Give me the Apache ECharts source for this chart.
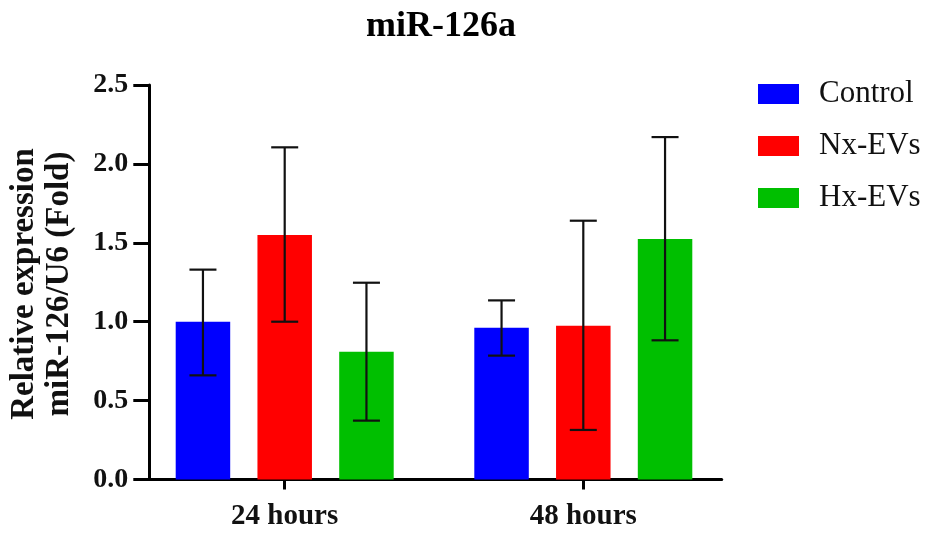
<!DOCTYPE html>
<html>
<head>
<meta charset="utf-8">
<script src="https://cdn.jsdelivr.net/npm/echarts@6/dist/echarts.min.js"></script>
<style>html,body{margin:0;padding:0;background:#fff}#c{width:925px;height:535px}</style>
</head>
<body>
<div id="c"></div>
<script>
const categories = ['24 hours', '48 hours'];
const seriesNames = ['Control', 'Nx-EVs', 'Hx-EVs'];
const controlMean = [1.0, 0.962];
const nxMean = [1.55, 0.975];
const hxMean = [0.81, 1.524];
const controlLow = [0.66, 0.785];
const controlHigh = [1.33, 1.135];
const nxLow = [1.0, 0.314];
const nxHigh = [2.105, 1.64];
const hxLow = [0.373, 0.882];
const hxHigh = [1.247, 2.17];
const yTicks = [0, 0.5, 1.0, 1.5, 2.0, 2.5];

const colors = ['#0000FF', '#FF0000', '#00BF00'];
const means = [controlMean, nxMean, hxMean];
const lows = [controlLow, nxLow, hxLow];
const highs = [controlHigh, nxHigh, hxHigh];
const FONT = '"Liberation Serif", "Times New Roman", serif';
const BAR_W = 54.5, BAR_GAP = 0.5;

const chart = echarts.init(document.getElementById('c'), null, {renderer: 'canvas'});

const barSeries = seriesNames.map((n, i) => ({
  name: n, type: 'bar', xAxisIndex: 0, yAxisIndex: 0,
  data: means[i], barWidth: BAR_W, barGap: (BAR_GAP * 100) + '%',
  itemStyle: {color: colors[i]}, z: 2
}));

const errSeries = seriesNames.map((n, i) => ({
  type: 'custom', xAxisIndex: 0, yAxisIndex: 0, z: 5, silent: true,
  data: categories.map((c, k) => [k, lows[i][k], highs[i][k]]),
  renderItem: function (params, api) {
    const k = api.value(0);
    const lo = api.coord([k, api.value(1)]);
    const hi = api.coord([k, api.value(2)]);
    const off = (i - 1) * BAR_W * (1 + BAR_GAP);
    const x = lo[0] + off;
    const cap = 13.5;
    const st = {stroke: '#111', lineWidth: 2.2};
    return {type: 'group', children: [
      {type: 'line', shape: {x1: x, y1: lo[1], x2: x, y2: hi[1]}, style: st},
      {type: 'line', shape: {x1: x - cap, y1: lo[1], x2: x + cap, y2: lo[1]}, style: st},
      {type: 'line', shape: {x1: x - cap, y1: hi[1], x2: x + cap, y2: hi[1]}, style: st}
    ]};
  }
}));

const option = {
  animation: false,
  backgroundColor: '#fff',
  title: {
    text: 'miR-126a', left: 436, top: 4, textAlign: 'center',
    textStyle: {fontFamily: FONT, fontWeight: 'bold', fontSize: 36, color: '#000'}
  },
  legend: {
    data: seriesNames, orient: 'vertical', left: 753, top: 73,
    itemWidth: 41, itemHeight: 20, itemGap: 20, icon: 'rect',
    textStyle: {fontFamily: FONT, fontSize: 31, color: '#111', lineHeight: 32, padding: [0, 0, 0, 15]}
  },
  grid: [
    {left: 135.4, width: 597.2, top: 85, height: 394.5},
    {left: 149.3, width: 572.4, top: 85, height: 394.5}
  ],
  xAxis: [
    {type: 'category', gridIndex: 0, data: categories,
     axisLine: {show: false},
     axisTick: {show: true, alignWithLabel: true, length: 10, lineStyle: {color: '#000', width: 3}},
     axisLabel: {fontFamily: FONT, fontWeight: 'bold', fontSize: 29, color: '#111', margin: 23}},
    {type: 'value', gridIndex: 1, min: 0, max: 1,
     axisLine: {show: true, onZero: false, lineStyle: {color: '#000', width: 3}},
     axisTick: {show: false}, axisLabel: {show: false}, splitLine: {show: false}}
  ],
  yAxis: [
    {type: 'value', gridIndex: 0, min: 0, max: 2.5, show: false},
    {type: 'value', gridIndex: 1, min: 0, max: 2.5, interval: 0.5,
     axisLine: {show: true, lineStyle: {color: '#000', width: 3}},
     axisTick: {show: true, length: 16, lineStyle: {color: '#000', width: 3}},
     axisLabel: {fontFamily: FONT, fontWeight: 'bold', fontSize: 28, color: '#111', margin: 21,
       formatter: v => yTicks.includes(v) ? v.toFixed(1) : ''},
     splitLine: {show: false}}
  ],
  graphic: [{
    type: 'text', x: 42, y: 284, rotation: Math.PI / 2,
    style: {text: 'Relative expression\nmiR-126/U6 (Fold)', fontFamily: FONT, fontWeight: 'bold',
      fontSize: 33, lineHeight: 35, fill: '#111', align: 'center', verticalAlign: 'middle'}
  }],
  series: barSeries.concat(errSeries)
};
chart.setOption(option);
</script>
</body>
</html>
